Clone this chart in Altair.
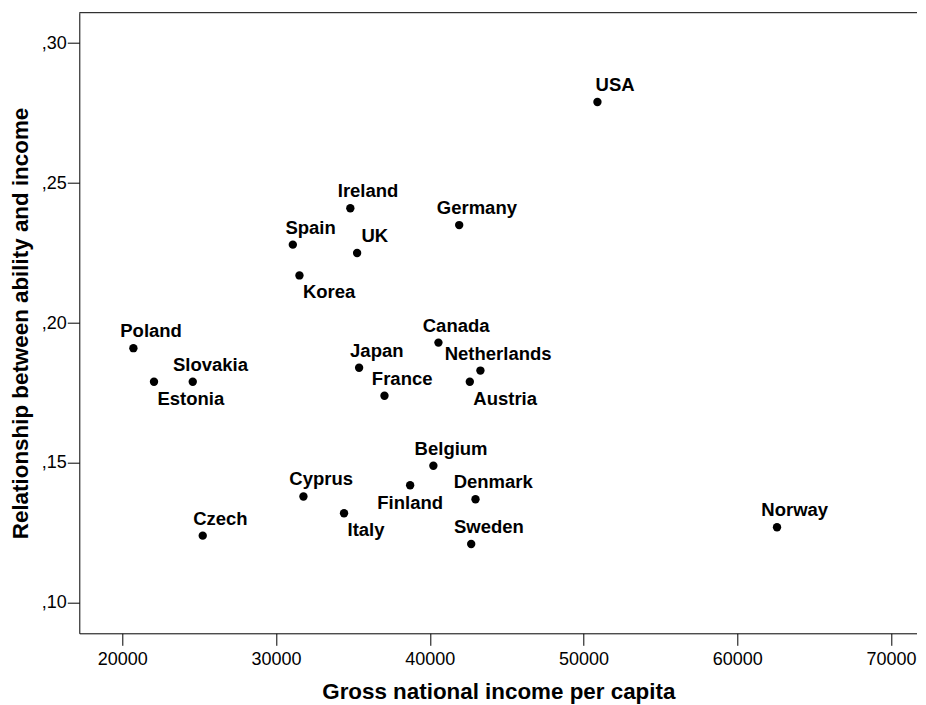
import altair as alt
import pandas as pd

countries = ["Poland", "Estonia", "Slovakia", "Czech", "Spain", "Korea", "Cyprus",
             "Italy", "Ireland", "UK", "Japan", "France", "Finland", "Belgium",
             "Canada", "Germany", "Austria", "Sweden", "Denmark", "Netherlands",
             "USA", "Norway"]
gni = [20720, 22060, 24580, 25230, 31090, 31520, 31780,
       34420, 34830, 35270, 35400, 37050, 38720, 40230,
       40560, 41910, 42600, 42690, 42970, 43290,
       50900, 62580]
relationship = [0.191, 0.179, 0.179, 0.124, 0.228, 0.217, 0.138,
                0.132, 0.241, 0.225, 0.184, 0.174, 0.142, 0.149,
                0.193, 0.235, 0.179, 0.121, 0.137, 0.183,
                0.279, 0.127]

x_ticks = [20000, 30000, 40000, 50000, 60000, 70000]
y_ticks = [0.10, 0.15, 0.20, 0.25, 0.30]

# label placement relative to each marker (layout only)
label_place = {"Estonia": "below_right", "Korea": "below_right",
               "Austria": "below_right", "Italy": "below_right",
               "Finland": "below"}

df = pd.DataFrame({"country": countries, "gni": gni, "rel": relationship})
df["place"] = [label_place.get(c, "above") for c in countries]

W = 838
H = 620.6
FONT = "Liberation Sans"

x_enc = alt.X(
    "gni:Q",
    scale=alt.Scale(domain=[17202, 71704], nice=False, zero=False),
    axis=alt.Axis(title="Gross national income per capita", values=x_ticks,
                  format="d", grid=False, tickSize=12, labelPadding=5,
                  titlePadding=12),
)
y_enc = alt.Y(
    "rel:Q",
    scale=alt.Scale(domain=[0.0891, 0.3109], nice=False, zero=False),
    axis=alt.Axis(title="Relationship between ability and income", values=y_ticks,
                  labelExpr="replace(format(datum.value, '.2f'), '0.', ',')",
                  grid=False, tickSize=12, labelPadding=1, titlePadding=9),
)

base = alt.Chart(df)

points = base.mark_circle(size=70, color="black", opacity=1).encode(x=x_enc, y=y_enc)

text_style = dict(font=FONT, fontSize=18.5, fontWeight="bold", color="black",
                  baseline="alphabetic")

above = base.transform_filter(
    alt.FieldEqualPredicate(field="place", equal="above")
).mark_text(align="center", dx=17.7, dy=-11, **text_style).encode(
    x=x_enc, y=y_enc, text="country:N")

below_right = base.transform_filter(
    alt.FieldEqualPredicate(field="place", equal="below_right")
).mark_text(align="left", dx=3.5, dy=23, **text_style).encode(
    x=x_enc, y=y_enc, text="country:N")

below = base.transform_filter(
    alt.FieldEqualPredicate(field="place", equal="below")
).mark_text(align="center", dx=0, dy=24, **text_style).encode(
    x=x_enc, y=y_enc, text="country:N")

top_border = alt.Chart(pd.DataFrame({"a": [0]})).mark_rule(
    color="black", strokeWidth=1
).encode(x=alt.value(0), x2=alt.value(W), y=alt.value(0))

chart = alt.layer(points, above, below_right, below, top_border).properties(
    width=W, height=H,
    padding={"left": 71.3, "top": 4.7, "right": 0, "bottom": 71.7},
    autosize=alt.AutoSizeParams(type="none"),
).configure_view(strokeWidth=0).configure_axis(
    labelFont=FONT, labelFontSize=18, labelColor="black",
    titleFont=FONT, titleFontSize=22.4, titleFontWeight="bold", titleColor="black",
    domainColor="black", domainWidth=1, tickColor="black", tickWidth=1,
)

chart.save("out.html", embed_options={"renderer": "svg", "actions": False})
